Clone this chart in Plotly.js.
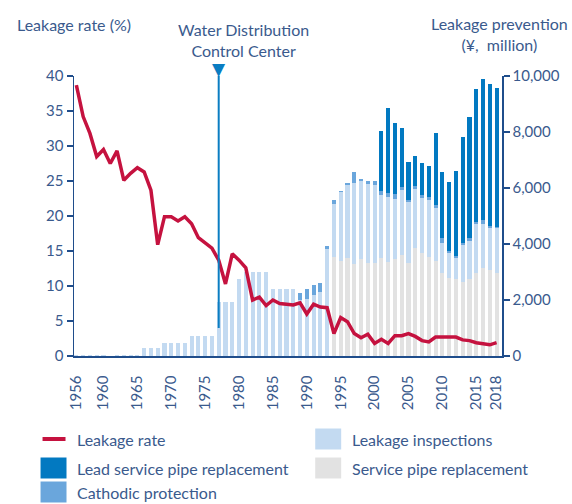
<!DOCTYPE html>
<html><head><meta charset="utf-8">
<script src="https://cdn.plot.ly/plotly-3.0.1.min.js"></script>
<style>html,body{margin:0;padding:0;background:#fff}#chart{width:572px;height:504px}</style>
</head><body><div id="chart"></div>
<script>
const years = [1956,1957,1958,1959,1960,1961,1962,1963,1964,1965,
  1966,1967,1968,1969,1970,1971,1972,1973,1974,1975,
  1976,1977,1978,1979,1980,1981,1982,1983,1984,1985,
  1986,1987,1988,1989,1990,1991,1992,1993,1994,1995,
  1996,1997,1998,1999,2000,2001,2002,2003,2004,2005,
  2006,2007,2008,2009,2010,2011,2012,2013,2014,2015,
  2016,2017,2018];
// Leakage rate (%)
const leakageRate = [38.7,34.2,31.8,28.5,29.5,27.5,29.3,25.1,26.1,26.9,
  26.3,23.7,15.9,19.9,19.9,19.3,19.9,18.9,16.9,16.2,
  15.4,13.7,10.3,14.6,13.7,12.6,8.0,8.4,7.2,8.0,
  7.5,7.4,7.3,7.6,6.0,7.4,7.0,6.9,3.2,5.5,
  4.9,3.2,2.6,3.1,1.8,2.4,1.8,2.9,2.9,3.2,
  2.8,2.2,2.0,2.7,2.7,2.7,2.7,2.3,2.2,1.9,
  1.7,1.6,1.9];
// Leakage prevention spending (¥ million)
const servicePipe = [0,0,0,0,0,0,0,0,0,0,
  0,0,0,0,0,0,0,0,0,0,
  0,0,0,0,0,0,0,0,0,0,
  0,0,0,0,0,0,0,0,3550,3400,
  3500,3290,3450,3330,3330,3490,3370,3450,3610,3330,
  3850,3670,3550,3390,2950,2770,2750,2650,2740,2950,
  3150,3070,2950];
const leakageInspections = [50,50,50,50,50,0,50,50,50,50,
  270,270,270,450,450,450,450,710,710,710,
  710,1940,1940,1940,2760,3000,3000,3000,3000,2390,
  2390,2390,2390,2000,2050,2180,2300,3820,1880,2440,
  2600,2880,2800,2800,2790,2260,2300,2160,2320,2160,
  2100,1960,2020,1910,1100,900,740,1310,1380,1760,
  1560,1510,1610];
const cathodic = [0,0,0,0,0,0,0,0,0,0,
  0,0,0,0,0,0,0,0,0,0,
  0,0,0,0,0,0,0,0,0,0,
  0,0,0,240,350,360,300,120,140,60,
  70,390,60,130,120,140,140,160,90,80,
  120,120,120,90,150,90,80,90,80,90,
  150,60,40];
const leadPipe = [0,0,0,0,0,0,0,0,0,0,
  0,0,0,0,0,0,0,0,0,0,
  0,0,0,0,0,0,0,0,0,0,
  0,0,0,0,0,0,0,0,0,0,
  0,0,0,0,0,2160,3035,2565,2110,1370,
  1070,1130,1095,2560,2360,2440,3050,3780,4320,4720,
  5030,5070,4980];
const tickYears = [1956,1960,1965,1970,1975,1980,1985,1990,1995,2000,2005,2010,2015,2018];
const eventYear = 1977;
const eventLabel = 'Water Distribution<br>Control Center';
const seriesNames = ['Leakage rate','Leakage inspections','Lead service pipe replacement','Service pipe replacement','Cathodic protection'];

const C = {rate:'#c5123f', insp:'#c3daf1', lead:'#0279c1', serv:'#e2e2e2', cath:'#6aa6dc', event:'#0a7dc2'};
const NAVY = '#1f4d8b', TXT = '#3a5a8d', FONT = 'Lato, "Noto Sans", sans-serif';
const bw = 0.6;
const traces = [
  {type:'bar', x:years, y:servicePipe, yaxis:'y', name:seriesNames[3], width:bw, marker:{color:C.serv}},
  {type:'bar', x:years, y:leakageInspections, yaxis:'y', name:seriesNames[1], width:bw, marker:{color:C.insp}},
  {type:'bar', x:years, y:cathodic, yaxis:'y', name:seriesNames[4], width:bw, marker:{color:C.cath}},
  {type:'bar', x:years, y:leadPipe, yaxis:'y', name:seriesNames[2], width:bw, marker:{color:C.lead}},
  {type:'scatter', mode:'lines', x:years, y:leakageRate, yaxis:'y2', name:seriesNames[0],
   line:{color:C.rate, width:3.5}}
];

// manual legend (paper coordinates of the plot area)
const L = 73.5, R = 502, T = 76, B = 356;
const px = v => (v - L) / (R - L), py = v => (B - v) / (B - T);
const legendItems = [
  {name:seriesNames[0], kind:'line', color:C.rate, sx:42, tx:75, cy:439},
  {name:seriesNames[2], kind:'box', color:C.lead, sx:40, tx:75, cy:468},
  {name:seriesNames[4], kind:'box', color:C.cath, sx:40, tx:75, cy:492},
  {name:seriesNames[1], kind:'box', color:C.insp, sx:315, tx:350, cy:439},
  {name:seriesNames[3], kind:'box', color:C.serv, sx:315, tx:350, cy:468}
];
const shapes = [
  {type:'line', xref:'x', yref:'y2', x0:eventYear, x1:eventYear, y0:4, y1:40, line:{color:C.event, width:2}, layer:'above'}
];
const annotations = [
  {text:'Leakage rate (%)', xref:'paper', yref:'paper', x:px(14), y:py(25), xanchor:'left', yanchor:'middle', showarrow:false, font:{size:16, color:TXT}},
  {text:eventLabel, xref:'paper', yref:'paper', x:px(243), y:py(40), xanchor:'center', yanchor:'middle', showarrow:false, font:{size:16, color:TXT}},
  {text:'▼', xref:'x', yref:'paper', x:eventYear, y:py(69), xanchor:'center', yanchor:'middle', showarrow:false,
   font:{family:'"DejaVu Sans", sans-serif', size:17, color:C.event}},
  {text:'Leakage prevention<br>(¥,  million)', xref:'paper', yref:'paper', x:px(499), y:py(34), xanchor:'center', yanchor:'middle', showarrow:false, font:{size:16, color:TXT}}
];
legendItems.forEach(it => {
  if (it.kind === 'line') {
    shapes.push({type:'line', xref:'paper', yref:'paper', x0:px(it.sx), x1:px(it.sx+23), y0:py(it.cy), y1:py(it.cy), line:{color:it.color, width:4}});
  } else {
    shapes.push({type:'rect', xref:'paper', yref:'paper', x0:px(it.sx), x1:px(it.sx+26), y0:py(it.cy-10.5), y1:py(it.cy+10.5), line:{width:0}, fillcolor:it.color});
  }
  annotations.push({text:it.name, xref:'paper', yref:'paper', x:px(it.tx), y:py(it.cy), xanchor:'left', yanchor:'middle', showarrow:false, font:{size:16, color:TXT}});
});

const layout = {
  width:572, height:504,
  margin:{l:L, r:572-R, t:T, b:504-B, autoexpand:false},
  paper_bgcolor:'#fff', plot_bgcolor:'rgba(0,0,0,0)',
  font:{family:FONT, size:15, color:TXT},
  barmode:'stack', bargap:0, showlegend:false,
  xaxis:{range:[1955.65, 2018.8], tickvals:tickYears, ticktext:tickYears.map(String),
    tickangle:-90, ticks:'', ticklabelstandoff:12, showgrid:false, zeroline:false, showline:true, linecolor:NAVY, linewidth:1.5,
    tickfont:{family:FONT, size:15, color:TXT}},
  yaxis:{range:[0,10000], dtick:2000, tickformat:',', side:'right', showgrid:false, zeroline:false,
    showline:true, linecolor:NAVY, linewidth:1.5, ticks:'outside', ticklen:6, tickcolor:NAVY, tickwidth:1.5,
    tickfont:{family:FONT, size:15, color:TXT}},
  yaxis2:{range:[0,40], dtick:5, overlaying:'y', side:'left', showgrid:false, zeroline:false, showline:true, linecolor:NAVY, linewidth:1.5,
    ticks:'outside', ticklen:6, tickcolor:NAVY, tickwidth:1.5, tickfont:{family:FONT, size:15, color:TXT}},
  shapes:shapes,
  annotations:annotations
};
Plotly.newPlot('chart', traces, layout, {displayModeBar:false, staticPlot:true});
</script></body></html>
